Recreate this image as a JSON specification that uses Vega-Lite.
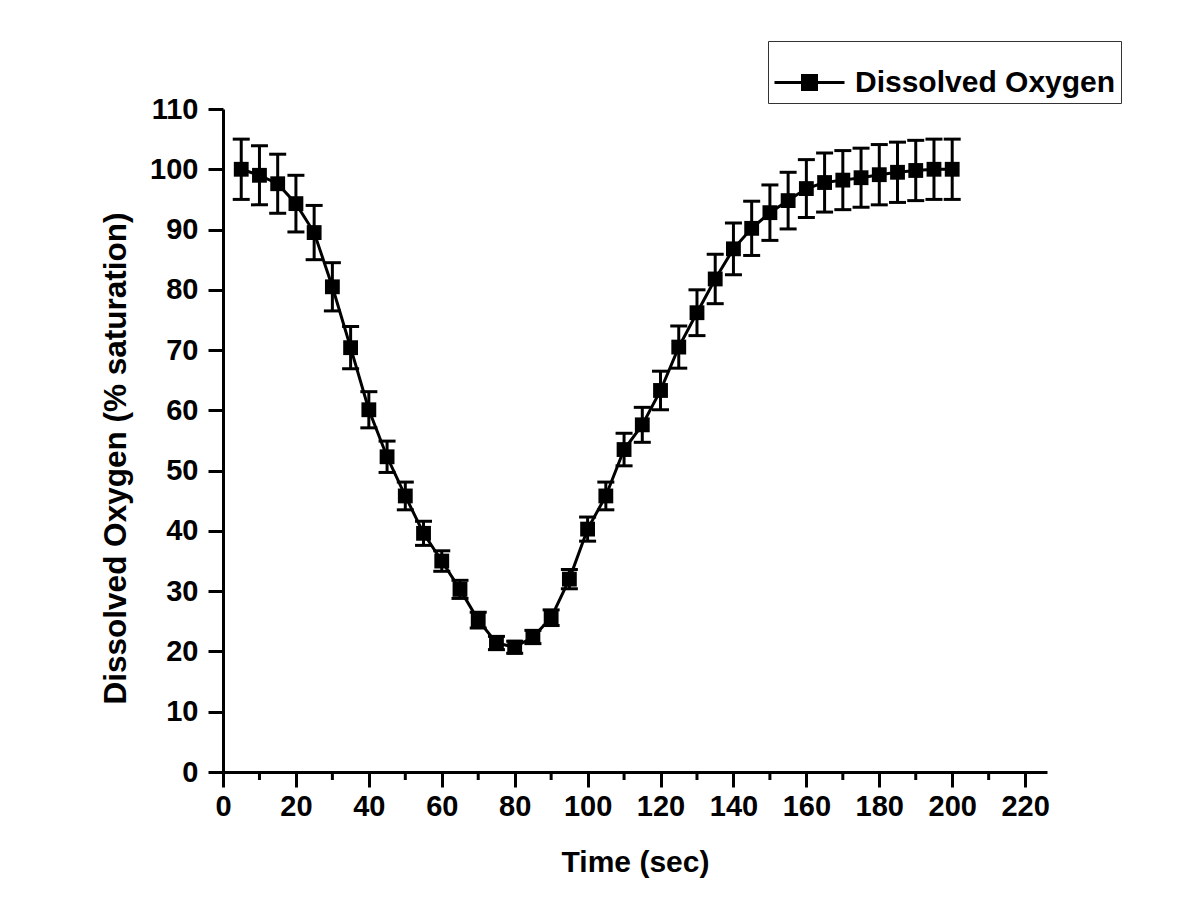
{
  "$schema": "https://vega.github.io/schema/vega-lite/v6.json",
  "width": 824,
  "height": 663,
  "autosize": "none",
  "padding": {"left": 223, "top": 109, "right": 149, "bottom": 145},
  "background": "white",
  "config": {
    "font": "Liberation Sans",
    "view": {"stroke": null},
    "axis": {
      "domainColor": "black", "domainWidth": 3, "tickColor": "black", "tickWidth": 3,
      "labelFont": "Liberation Sans", "labelFontWeight": "bold", "labelFontSize": 29, "labelColor": "black",
      "titleFont": "Liberation Sans", "titleFontWeight": "bold", "titleFontSize": 30, "titleColor": "black",
      "grid": false
    }
  },
  "data": {
    "values": [
      {"t": 5, "do": 100.0, "err": 5.0, "series": "Dissolved Oxygen"},
      {"t": 10, "do": 99.0, "err": 4.9, "series": "Dissolved Oxygen"},
      {"t": 15, "do": 97.6, "err": 4.9, "series": "Dissolved Oxygen"},
      {"t": 20, "do": 94.3, "err": 4.7, "series": "Dissolved Oxygen"},
      {"t": 25, "do": 89.5, "err": 4.5, "series": "Dissolved Oxygen"},
      {"t": 30, "do": 80.5, "err": 4.0, "series": "Dissolved Oxygen"},
      {"t": 35, "do": 70.4, "err": 3.5, "series": "Dissolved Oxygen"},
      {"t": 40, "do": 60.1, "err": 3.0, "series": "Dissolved Oxygen"},
      {"t": 45, "do": 52.3, "err": 2.6, "series": "Dissolved Oxygen"},
      {"t": 50, "do": 45.8, "err": 2.3, "series": "Dissolved Oxygen"},
      {"t": 55, "do": 39.6, "err": 2.0, "series": "Dissolved Oxygen"},
      {"t": 60, "do": 35.0, "err": 1.7, "series": "Dissolved Oxygen"},
      {"t": 65, "do": 30.3, "err": 1.5, "series": "Dissolved Oxygen"},
      {"t": 70, "do": 25.2, "err": 1.3, "series": "Dissolved Oxygen"},
      {"t": 75, "do": 21.4, "err": 1.1, "series": "Dissolved Oxygen"},
      {"t": 80, "do": 20.7, "err": 1.0, "series": "Dissolved Oxygen"},
      {"t": 85, "do": 22.4, "err": 1.1, "series": "Dissolved Oxygen"},
      {"t": 90, "do": 25.6, "err": 1.3, "series": "Dissolved Oxygen"},
      {"t": 95, "do": 32.0, "err": 1.6, "series": "Dissolved Oxygen"},
      {"t": 100, "do": 40.3, "err": 2.0, "series": "Dissolved Oxygen"},
      {"t": 105, "do": 45.8, "err": 2.3, "series": "Dissolved Oxygen"},
      {"t": 110, "do": 53.5, "err": 2.7, "series": "Dissolved Oxygen"},
      {"t": 115, "do": 57.6, "err": 2.9, "series": "Dissolved Oxygen"},
      {"t": 120, "do": 63.3, "err": 3.2, "series": "Dissolved Oxygen"},
      {"t": 125, "do": 70.5, "err": 3.5, "series": "Dissolved Oxygen"},
      {"t": 130, "do": 76.2, "err": 3.8, "series": "Dissolved Oxygen"},
      {"t": 135, "do": 81.8, "err": 4.1, "series": "Dissolved Oxygen"},
      {"t": 140, "do": 86.8, "err": 4.3, "series": "Dissolved Oxygen"},
      {"t": 145, "do": 90.2, "err": 4.5, "series": "Dissolved Oxygen"},
      {"t": 150, "do": 92.8, "err": 4.6, "series": "Dissolved Oxygen"},
      {"t": 155, "do": 94.8, "err": 4.7, "series": "Dissolved Oxygen"},
      {"t": 160, "do": 96.8, "err": 4.8, "series": "Dissolved Oxygen"},
      {"t": 165, "do": 97.8, "err": 4.9, "series": "Dissolved Oxygen"},
      {"t": 170, "do": 98.2, "err": 4.9, "series": "Dissolved Oxygen"},
      {"t": 175, "do": 98.6, "err": 4.9, "series": "Dissolved Oxygen"},
      {"t": 180, "do": 99.1, "err": 5.0, "series": "Dissolved Oxygen"},
      {"t": 185, "do": 99.5, "err": 5.0, "series": "Dissolved Oxygen"},
      {"t": 190, "do": 99.8, "err": 5.0, "series": "Dissolved Oxygen"},
      {"t": 195, "do": 100.0, "err": 5.0, "series": "Dissolved Oxygen"},
      {"t": 200, "do": 100.0, "err": 5.0, "series": "Dissolved Oxygen"}
    ]
  },
  "encoding": {
    "x": {
      "field": "t", "type": "quantitative", "title": "Time (sec)",
      "scale": {"domain": [0, 226], "nice": false, "zero": true},
      "axis": {
        "title": "Time (sec)", "values": [0, 20, 40, 60, 80, 100, 120, 140, 160, 180, 200, 220],
        "tickSize": 15, "labelPadding": 5, "titlePadding": 26, "labelFlush": false
      }
    }
  },
  "layer": [
    {
      "mark": {"type": "line", "color": "black", "strokeWidth": 3},
      "encoding": {
        "y": {
          "field": "do", "type": "quantitative", "title": "Dissolved Oxygen (% saturation)",
          "scale": {"domain": [0, 110], "nice": false},
          "axis": {
            "title": "Dissolved Oxygen (% saturation)", "values": [0, 10, 20, 30, 40, 50, 60, 70, 80, 90, 100, 110],
            "tickSize": 15, "labelPadding": 10, "titlePadding": 17, "labelFlush": false,
            "titleFontSize": 31.5, "titleY": 349
          }
        }
      }
    },
    {
      "mark": {"type": "tick", "color": "black", "size": 8, "thickness": 3, "orient": "vertical", "opacity": 1},
      "data": {"values": [{"m": 10}, {"m": 30}, {"m": 50}, {"m": 70}, {"m": 90}, {"m": 110}, {"m": 130}, {"m": 150}, {"m": 170}, {"m": 190}, {"m": 210}]},
      "encoding": {
        "x": {"field": "m", "type": "quantitative", "title": "Time (sec)"},
        "y": {"datum": 0},
        "yOffset": {"value": 4}
      }
    },
    {
      "mark": {"type": "tick", "color": "black", "size": 8, "thickness": 3, "orient": "horizontal", "opacity": 1},
      "data": {"values": [{"m": 5}, {"m": 15}, {"m": 25}, {"m": 35}, {"m": 45}, {"m": 55}, {"m": 65}, {"m": 75}, {"m": 85}, {"m": 95}, {"m": 105}]},
      "encoding": {
        "y": {"field": "m", "type": "quantitative", "title": "Dissolved Oxygen (% saturation)"},
        "x": {"datum": 0},
        "xOffset": {"value": -4}
      }
    },
    {
      "mark": {"type": "errorbar", "color": "black", "opacity": 1, "ticks": {"size": 17, "thickness": 3, "color": "black", "opacity": 1}, "rule": {"strokeWidth": 3, "opacity": 1, "color": "black"}},
      "encoding": {
        "y": {"field": "do", "type": "quantitative", "title": "Dissolved Oxygen (% saturation)"},
        "yError": {"field": "err"}
      }
    },
    {
      "mark": {"type": "point", "filled": true, "opacity": 1, "shape": "square", "size": 220},
      "encoding": {
        "y": {"field": "do", "type": "quantitative", "title": "Dissolved Oxygen (% saturation)"},
        "color": {
          "field": "series", "type": "nominal",
          "scale": {"range": ["black"]},
          "legend": {
            "title": null, "orient": "none", "legendX": 545, "legendY": -68,
            "strokeColor": "#333", "padding": 5, "labelLimit": 600,
            "labelFont": "Liberation Sans", "labelFontWeight": "bold", "labelFontSize": 30, "labelColor": "black",
            "symbolType": "M-1,0H1M-0.2,-0.2H0.2V0.2H-0.2Z", "symbolSize": 4900, "symbolStrokeWidth": 3,
            "symbolStrokeColor": "black", "symbolFillColor": "black", "symbolOpacity": 1, "symbolOffset": 0, "labelOffset": 9
          }
        }
      }
    }
  ]
}
